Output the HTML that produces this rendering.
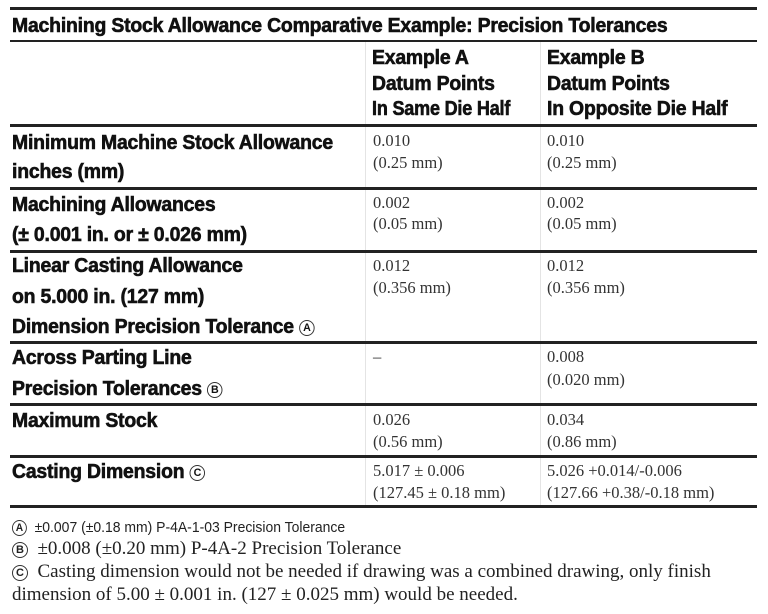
<!DOCTYPE html>
<html><head><meta charset="utf-8"><style>
body{margin:0;width:768px;height:614px;background:#fff;position:relative;overflow:hidden;color:#111}
.b{position:absolute;font-family:"Liberation Sans",sans-serif;font-weight:bold;font-size:20px;line-height:20px;white-space:nowrap;transform:scaleX(0.97);transform-origin:left center;letter-spacing:-0.2px;-webkit-text-stroke:0.6px #111}
.s{position:absolute;font-family:"Liberation Serif",serif;font-size:16.5px;line-height:16px;white-space:nowrap;color:#333}
.f{position:absolute;font-family:"Liberation Serif",serif;font-size:19px;line-height:19px;white-space:nowrap;color:#222}
.hl{position:absolute;left:10px;width:747px;height:3px;background:#222}
.vl{position:absolute;width:1px;background:#e4e4e4}
.c{display:inline-block;width:14px;height:14px;border:1px solid #333;border-radius:50%;font-size:11px;line-height:14px;text-align:center;font-family:"Liberation Sans",sans-serif;vertical-align:middle;font-weight:bold;-webkit-text-stroke:0}
</style></head><body>
<div class="hl" style="top:7px"></div>
<div class="b" style="left:12px;top:16px">Machining Stock Allowance Comparative Example: Precision Tolerances</div>
<div class="hl" style="top:40px;height:2px"></div>
<div class="vl" style="left:365px;top:42px;height:464px"></div>
<div class="vl" style="left:540px;top:42px;height:464px"></div>
<div class="b" style="left:372px;top:48px">Example A</div>
<div class="b" style="left:372px;top:74px">Datum Points</div>
<div class="b" style="left:372px;top:99px;transform:scaleX(0.9)">In Same Die Half</div>
<div class="b" style="left:547px;top:48px">Example B</div>
<div class="b" style="left:547px;top:74px">Datum Points</div>
<div class="b" style="left:547px;top:99px">In Opposite Die Half</div>
<div class="hl" style="top:124px"></div>

<div class="b" style="left:12px;top:133px">Minimum Machine Stock Allowance</div>
<div class="b" style="left:12px;top:162px">inches (mm)</div>
<div class="s" style="left:373px;top:133px">0.010</div><div class="s" style="left:373px;top:155px">(0.25 mm)</div>
<div class="s" style="left:547px;top:133px">0.010</div><div class="s" style="left:547px;top:155px">(0.25 mm)</div>
<div class="hl" style="top:187px"></div>

<div class="b" style="left:12px;top:195px">Machining Allowances</div>
<div class="b" style="left:12px;top:225px">(± 0.001 in. or ± 0.026 mm)</div>
<div class="s" style="left:373px;top:195px">0.002</div><div class="s" style="left:373px;top:216px">(0.05 mm)</div>
<div class="s" style="left:547px;top:195px">0.002</div><div class="s" style="left:547px;top:216px">(0.05 mm)</div>
<div class="hl" style="top:250px"></div>

<div class="b" style="left:12px;top:256px">Linear Casting Allowance</div>
<div class="b" style="left:12px;top:287px">on 5.000 in. (127 mm)</div>
<div class="b" style="left:12px;top:317px">Dimension Precision Tolerance <span class="c">A</span></div>
<div class="s" style="left:373px;top:258px">0.012</div><div class="s" style="left:373px;top:280px">(0.356 mm)</div>
<div class="s" style="left:547px;top:258px">0.012</div><div class="s" style="left:547px;top:280px">(0.356 mm)</div>
<div class="hl" style="top:341px"></div>

<div class="b" style="left:12px;top:348px">Across Parting Line</div>
<div class="b" style="left:12px;top:379px">Precision Tolerances <span class="c">B</span></div>
<div class="s" style="left:373px;top:349px">–</div>
<div class="s" style="left:547px;top:349px">0.008</div><div class="s" style="left:547px;top:372px">(0.020 mm)</div>
<div class="hl" style="top:403px"></div>

<div class="b" style="left:12px;top:411px">Maximum Stock</div>
<div class="s" style="left:373px;top:412px">0.026</div><div class="s" style="left:373px;top:434px">(0.56 mm)</div>
<div class="s" style="left:547px;top:412px">0.034</div><div class="s" style="left:547px;top:434px">(0.86 mm)</div>
<div class="hl" style="top:455px"></div>

<div class="b" style="left:12px;top:462px">Casting Dimension <span class="c">C</span></div>
<div class="s" style="left:373px;top:463px">5.017 ± 0.006</div><div class="s" style="left:373px;top:485px">(127.45 ± 0.18 mm)</div>
<div class="s" style="left:547px;top:463px">5.026 +0.014/-0.006</div><div class="s" style="left:547px;top:485px">(127.66 +0.38/-0.18 mm)</div>
<div class="hl" style="top:505px"></div>

<div class="f" style="left:12px;top:518px;font-family:'Liberation Sans',sans-serif;font-size:15px;transform:scaleX(0.93);transform-origin:left"><span class="c">A</span>&nbsp; ±0.007 (±0.18 mm) P-4A-1-03 Precision Tolerance</div>
<div class="f" style="left:12px;top:539px"><span class="c">B</span>&nbsp; ±0.008 (±0.20 mm) P-4A-2 Precision Tolerance</div>
<div class="f" style="left:12px;top:562px"><span class="c">C</span>&nbsp; Casting dimension would not be needed if drawing was a combined drawing, only finish</div>
<div class="f" style="left:12px;top:585px">dimension of 5.00 ± 0.001 in. (127 ± 0.025 mm) would be needed.</div>
</body></html>
